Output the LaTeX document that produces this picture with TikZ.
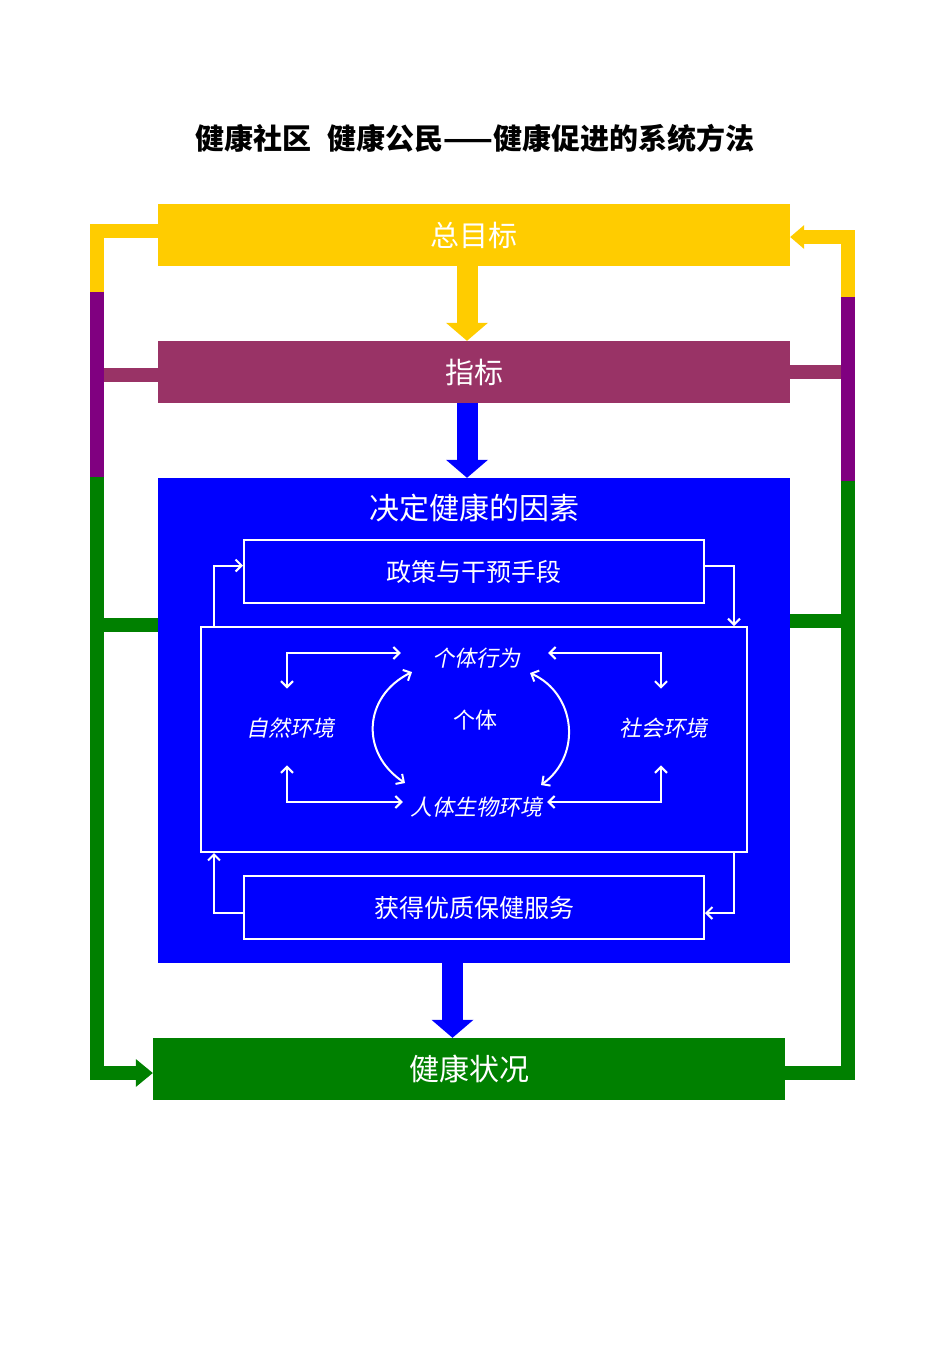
\documentclass[tikz,border=0pt]{standalone}
\usepackage{fontspec}
\setmainfont{Noto Sans CJK SC}
\newfontfamily\cjkslant[FakeSlant=0.2]{Noto Sans CJK SC}
\usepackage{tikz}
\usetikzlibrary{arrows.meta}
\definecolor{goalyellow}{RGB}{255, 204, 0}
\definecolor{indmaroon}{RGB}{153, 51, 102}
\definecolor{loopviolet}{RGB}{128, 0, 128}
\definecolor{detblue}{RGB}{0, 0, 255}
\definecolor{healthgreen}{RGB}{0, 128, 0}

\begin{document}
\begin{tikzpicture}[x = 1pt, y = -1pt,
			bar/.style = {rectangle, inner sep = 0pt, minimum width = 632pt, minimum height = 62pt, text = white, font = \fontsize{29}{29}\selectfont},
			wbox/.style = {rectangle, draw = white, line width = 2pt, inner sep = 0pt, minimum width = 460pt, minimum height = 63pt, text = white, font = \fontsize{25}{25}\selectfont},
			lab/.style = {inner sep = 0pt, text = white, font = \cjkslant\fontsize{22}{22}\selectfont},
			fat/.style = {line width = 21pt, -{Triangle[width = 42pt, length = 18pt, line width = 0pt]}},
			loopline/.style = {line width = 14pt},
			warrow/.style = {draw = white, line width = 2pt, >={Straight Barb[length = 6pt, width = 12pt]}}]
			\useasboundingbox (0,0) rectangle (950,1345);
			\node (t) at (475,138) [font = \bfseries\fontsize{29}{29}\selectfont] {健康社区\hspace{16pt}健康公民——健康促进的系统方法};
			\node (goal) at (474,235) [bar, fill = goalyellow] {总目标};
			\node (ind) at (474,372) [bar, fill = indmaroon] {指标};
			\node (det) at (474,720.5) [bar, fill = detblue, minimum height = 485pt] {};
			\node (dett) at (474,508) [text = white, font = \fontsize{30}{30}\selectfont] {决定健康的因素};
			\node (pol) at (474,571.5) [wbox] {政策与干预手段};
			\node (core) at (474,739.5) [wbox, minimum width = 546pt, minimum height = 225pt] {};
			\node (serv) at (474,907.5) [wbox] {获得优质保健服务};
			\node (hs) at (469,1069) [bar, fill = healthgreen, font = \fontsize{30}{30}\selectfont] {健康状况};
			\node (beh) at (476,658) [lab] {个体行为};
			\node (nat) at (290,728) [lab] {自然环境};
			\node (soc) at (663,728) [lab] {社会环境};
			\node (self) at (475,720) [lab, font = \fontsize{22}{22}\selectfont] {个体};
			\node (bio) at (476,807) [lab] {人体生物环境};
			% outer loop, left side
			\coordinate (l1) at (97,230.5);
			\coordinate (l2) at (97,292);
			\coordinate (l3) at (97,477);
			\coordinate (l4) at (97,1073);
			\coordinate (l5) at (97,375);
			\coordinate (l6) at (97,624.5);
			\draw[loopline, indmaroon] (ind.west |- l5) -- ([xshift = 7pt]l5);
			\draw[loopline, healthgreen] (det.west |- l6) -- ([xshift = 7pt]l6);
			\draw[loopline, goalyellow] (goal.west |- l1) -- (l1) -- (l2);
			\draw[loopline, loopviolet] (l2) -- (l3);
			\draw[loopline, healthgreen, -{Triangle[width = 28pt, length = 17pt, line width = 0pt]}] (l3) -- (l4) -- (hs.west |- l4);
			% outer loop, right side
			\coordinate (r1) at (848,237);
			\coordinate (r2) at (848,297);
			\coordinate (r3) at (848,481);
			\coordinate (r4) at (848,1073);
			\coordinate (r5) at (848,371.5);
			\coordinate (r6) at (848,620.5);
			\draw[loopline, indmaroon] (ind.east |- r5) -- ([xshift = -7pt]r5);
			\draw[loopline, healthgreen] (det.east |- r6) -- ([xshift = -7pt]r6);
			\draw[loopline, healthgreen] (hs.east |- r4) -- (r4) -- (r3);
			\draw[loopline, loopviolet] (r3) -- (r2);
			\draw[loopline, goalyellow, -{Triangle[width = 24pt, length = 14pt, line width = 0pt]}] (r2) -- (r1) -- (goal.east |- r1);
			% block arrows
			\draw[fat, goalyellow] ([xshift = -7pt]goal.south) -- ([xshift = -7pt]ind.north);
			\draw[fat, detblue] ([xshift = -7pt]ind.south) -- ([xshift = -7pt]det.north);
			\draw[fat, detblue] ([xshift = -21.5pt]det.south) -- ([xshift = -16.5pt]hs.north);
			% inner arrows
			\draw[warrow, ->] ([xshift = 14pt]core.north west) |- ([yshift = 6pt]pol.west);
			\draw[warrow, ->] ([yshift = 6pt]pol.east) -| ([xshift = -14pt]core.north east);
			\draw[warrow, ->] ([xshift = -14pt]core.south east) |- ([yshift = -5.5pt]serv.east);
			\draw[warrow, ->] ([yshift = -5.5pt]serv.west) -| ([xshift = 14pt]core.south west);
			\draw[warrow, <->] ([xshift = -3pt, yshift = 29pt]nat.north) |- ([xshift = -31pt, yshift = 5pt]beh.west);
			\draw[warrow, <->] ([xshift = 28pt, yshift = 5pt]beh.east) -| ([xshift = -2pt, yshift = 29pt]soc.north);
			\draw[warrow, <->] ([xshift = -3pt, yshift = -27pt]nat.south) |- ([xshift = -7pt, yshift = 5pt]bio.west);
			\draw[warrow, <->] ([xshift = 5pt, yshift = 5pt]bio.east) -| ([xshift = -2pt, yshift = -27pt]soc.south);
			\draw[warrow, <->] ([xshift = -64pt, yshift = -14pt]beh.center) to[bend right = 60, looseness = 1.25] ([xshift = -71pt, yshift = 24pt]bio.center);
			\draw[warrow, <->] ([xshift = 54pt, yshift = -15pt]beh.center) to[bend left = 60, looseness = 1.15] ([xshift = 65pt, yshift = 22pt]bio.center);
			\end{tikzpicture}
\end{document}
